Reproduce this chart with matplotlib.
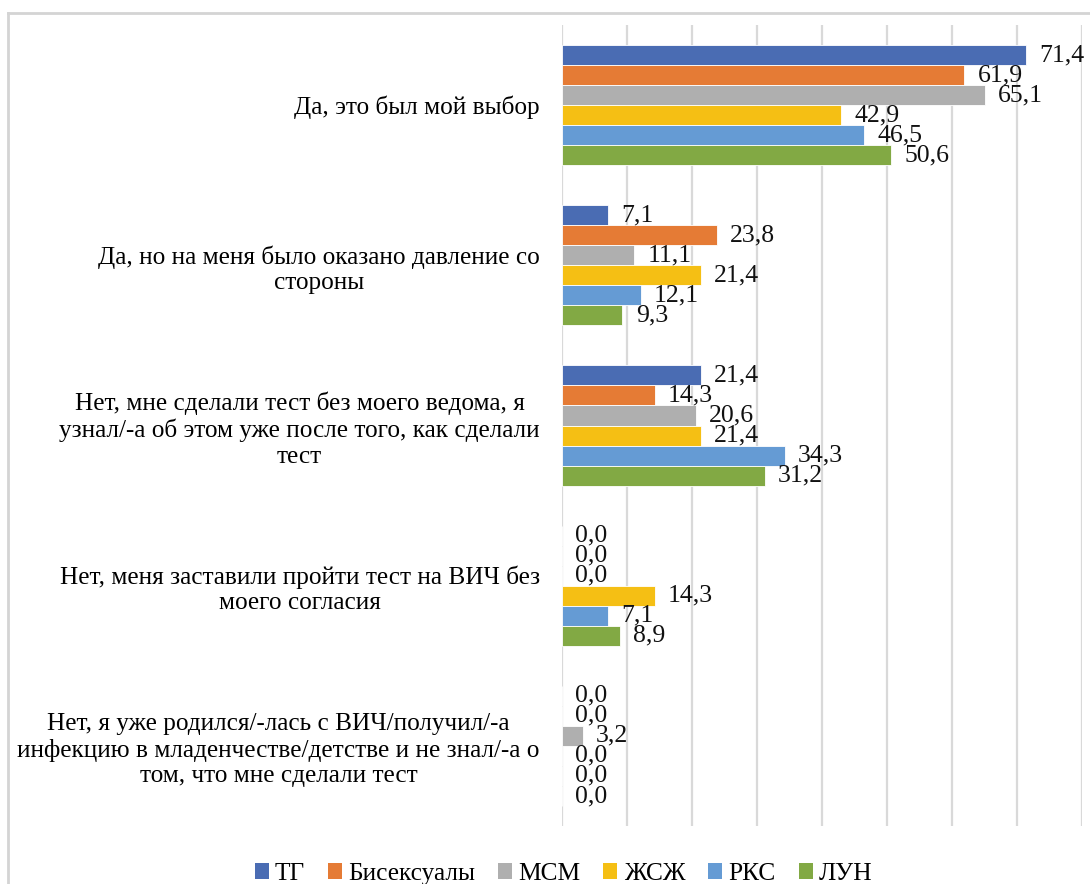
import matplotlib
matplotlib.use("Agg")
import matplotlib.pyplot as plt
from matplotlib.lines import Line2D
from matplotlib.patches import Patch
import numpy as np

plt.rcParams['font.family'] = ['Liberation Serif', 'DejaVu Serif']

categories = [
    "Да, это был мой выбор",
    "Да, но на меня было оказано давление со\nстороны",
    "Нет, мне сделали тест без моего ведома, я\nузнал/-а об этом уже после того, как сделали\nтест",
    "Нет, меня заставили пройти тест на ВИЧ без\nмоего согласия",
    "Нет, я уже родился/-лась с ВИЧ/получил/-а\nинфекцию в младенчестве/детстве и не знал/-а о\nтом, что мне сделали тест",
]
series_names = ["ТГ", "Бисексуалы", "МСМ", "ЖСЖ", "РКС", "ЛУН"]
tg = [71.4, 7.1, 21.4, 0.0, 0.0]
bisexual = [61.9, 23.8, 14.3, 0.0, 0.0]
msm = [65.1, 11.1, 20.6, 0.0, 3.2]
wsw = [42.9, 21.4, 21.4, 14.3, 0.0]
sw = [46.5, 12.1, 34.3, 7.1, 0.0]
pwid = [50.6, 9.3, 31.2, 8.9, 0.0]
series_values = [tg, bisexual, msm, wsw, sw, pwid]
colors = ['#4A6CB3', '#E57B35', '#AFAFAF', '#F5BF14', '#659BD4', '#82A944']

W, H = 1090, 884
fig = plt.figure(figsize=(W / 100, H / 100), dpi=100)
ax = fig.add_axes([562 / W, 1 - 826 / H, 520 / W, 801 / H])

y = np.arange(len(categories))
bar_h = 0.125
for i, (vals, col) in enumerate(zip(series_values, colors)):
    pos = y + (i - 2.5) * bar_h
    ax.barh(pos, vals, height=bar_h, color=col, edgecolor='white', linewidth=0.6, zorder=3)
    for p, v in zip(pos, vals):
        ax.annotate(f"{v:.1f}".replace('.', ','), xy=(v, p), xytext=(9.5, 0),
                    textcoords='offset points', ha='left', va='center',
                    fontsize=18.5, color='#111111', zorder=4, annotation_clip=False)

ax.set_xlim(0, 80)
ax.set_ylim(len(categories) - 0.5, -0.5)
ax.set_xticks(np.arange(0, 81, 10))
ax.xaxis.grid(True, color='#D9D9D9', linewidth=1.6, zorder=0)
ax.tick_params(axis='x', length=0, labelbottom=False)
ax.tick_params(axis='y', length=0, pad=16)
ax.set_yticks(y)
ax.set_yticklabels(categories, fontsize=18.2, ha='right', multialignment='center')
for s in ax.spines.values():
    s.set_visible(False)

handles = [Patch(facecolor=c, edgecolor='none') for c in colors]
fig.legend(handles, series_names, loc='center', bbox_to_anchor=(0.517, 1 - 874 / H),
           ncol=6, frameon=False, fontsize=18.3, handlelength=0.55, handleheight=0.55,
           handletextpad=0.25, columnspacing=0.9)

# outer frame (left and top edges)
fig.add_artist(Line2D([8 / W, 8 / W], [0, 1 - 13 / H], transform=fig.transFigure,
                      color='#D4D4D4', linewidth=2))
fig.add_artist(Line2D([8 / W, 1], [1 - 13 / H, 1 - 13 / H], transform=fig.transFigure,
                      color='#D4D4D4', linewidth=2))

fig.savefig('out.png', dpi=100, facecolor='white')
